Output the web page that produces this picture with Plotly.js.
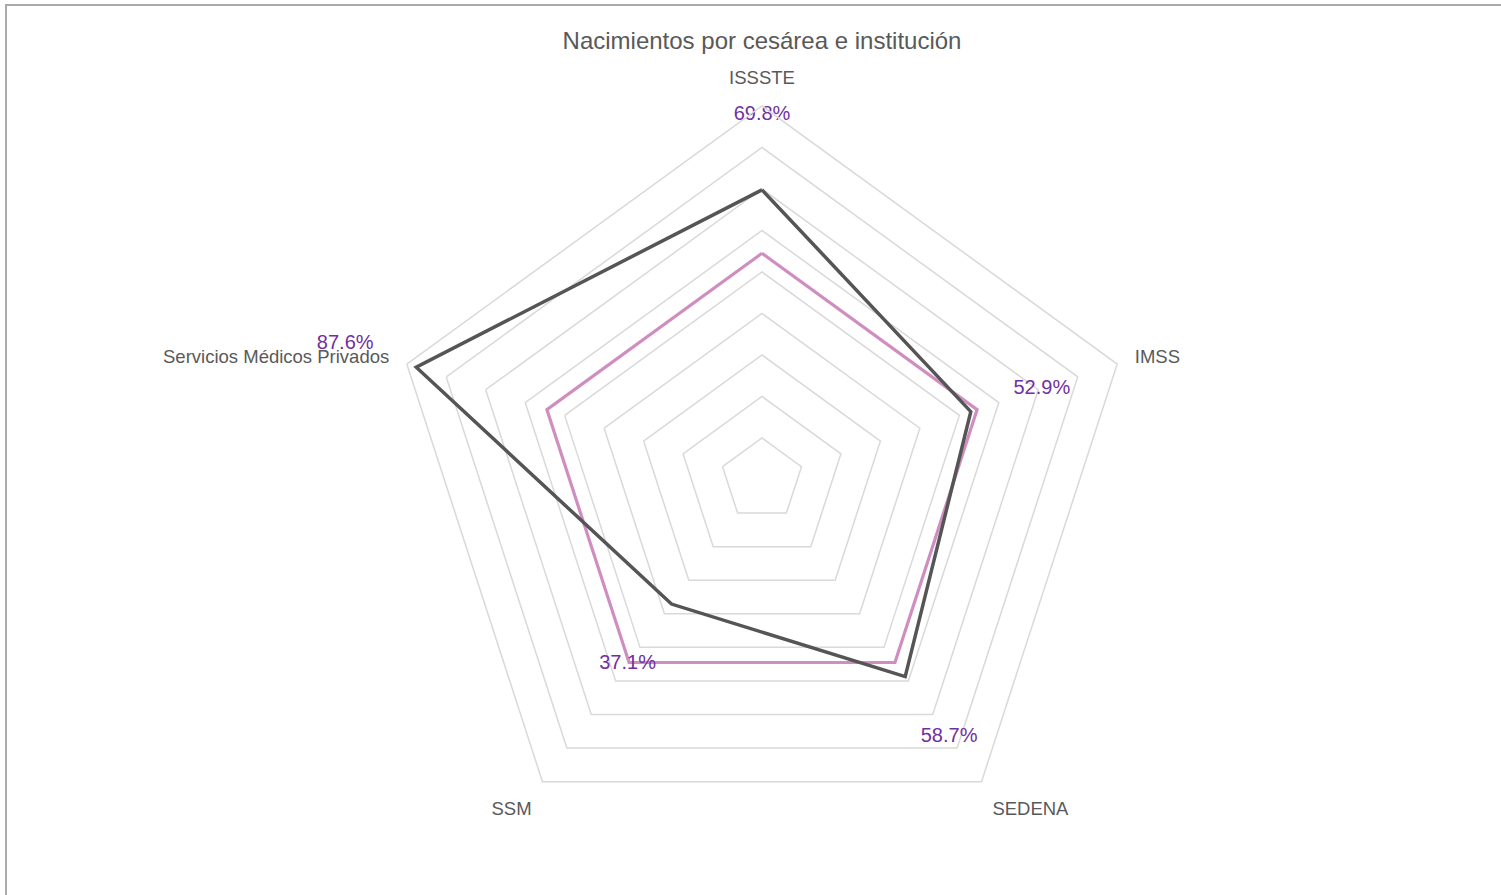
<!DOCTYPE html>
<html>
<head>
<meta charset="utf-8">
<script src="https://cdn.plot.ly/plotly-3.0.1.min.js"></script>
<style>html,body{margin:0;padding:0;background:#fff;}#chart{width:1501px;height:895px;}</style>
</head>
<body>
<div id="chart"></div>
<script>
// Data
const categories = ["ISSSTE", "IMSS", "SEDENA", "SSM", "Servicios Médicos Privados"];
const cesareaInstitucion = [0.698, 0.529, 0.587, 0.371, 0.876];
const promedioNacional = [0.545, 0.545, 0.545, 0.545, 0.545];
const labelTexts = ["69.8%", "52.9%", "58.7%", "37.1%", "87.6%"];

// Style / geometry
const W = 1501, H = 895;
const CX = 762, CY = 479.5;          // pixel centre of the radar
const R_MAIN_PX = 373.5;             // pixel radius of the outer ring
const RANGE_MAIN = 0.9;
const RANGE_EXT = 1.1;               // extended overlay for labels beyond the grid
const R_EXT_PX = R_MAIN_PX * RANGE_EXT / RANGE_MAIN;
const LABEL_OFFSET = 0.18;
const close = a => a.concat([a[0]]);

const labelR = cesareaInstitucion.map(v => v + LABEL_OFFSET);
const inIdx = [], outIdx = [];
labelR.forEach((r, i) => (r <= RANGE_MAIN ? inIdx : outIdx).push(i));
const pick = (arr, idx) => idx.map(i => arr[i]);
const labelFont = {family: "Liberation Sans, Arial, sans-serif", size: 20, color: "#7030A0"};

const traces = [
  {
    type: "scatterpolar", mode: "lines", subplot: "polar",
    r: close(promedioNacional), theta: close(categories),
    line: {color: "#CF8EBF", width: 3.2}, hoverinfo: "skip"
  },
  {
    type: "scatterpolar", mode: "lines", subplot: "polar",
    r: close(cesareaInstitucion), theta: close(categories),
    line: {color: "#555555", width: 3.5}, hoverinfo: "skip"
  },
  {
    type: "scatterpolar", mode: "text", subplot: "polar",
    r: pick(labelR, inIdx), theta: pick(categories, inIdx),
    text: pick(labelTexts, inIdx), textposition: "middle center", cliponaxis: false,
    textfont: labelFont, hoverinfo: "skip"
  },
  {
    type: "scatterpolar", mode: "text", subplot: "polar2",
    r: pick(labelR, outIdx), theta: pick(categories, outIdx),
    text: pick(labelTexts, outIdx), textposition: "middle center", cliponaxis: false,
    textfont: labelFont, hoverinfo: "skip"
  }
];

const layout = {
  width: W, height: H,
  margin: {l: 0, r: 0, t: 0, b: 0},
  paper_bgcolor: "#ffffff",
  showlegend: false,
  title: {
    text: "Nacimientos por cesárea e institución",
    x: CX / W, xanchor: "center", y: 1 - 41 / H, yanchor: "middle",
    font: {family: "Liberation Sans, Arial, sans-serif", size: 24, color: "#595959"}
  },
  polar: {
    domain: {x: [0.1, 2 * CX / W - 0.1], y: [1 - (CY + R_MAIN_PX) / H, 1 - (CY - R_MAIN_PX) / H]},
    gridshape: "linear",
    bgcolor: "rgba(0,0,0,0)",
    radialaxis: {
      range: [0, RANGE_MAIN], dtick: 0.1, tick0: 0,
      showticklabels: false, showline: false, ticks: "",
      gridcolor: "#D9D9D9", gridwidth: 1.5
    },
    angularaxis: {
      type: "category", categoryorder: "array", categoryarray: categories,
      rotation: 90, direction: "clockwise",
      showgrid: false, showline: true, linecolor: "#D9D9D9", linewidth: 1.5,
      ticks: "outside", ticklen: 14, tickcolor: "rgba(0,0,0,0)",
      tickfont: {family: "Liberation Sans, Arial, sans-serif", size: 18.5, color: "#595959"}
    }
  },
  polar2: {
    sector: [0, 180],
    domain: {x: [(CX - R_EXT_PX) / W, (CX + R_EXT_PX) / W], y: [1 - CY / H, 1 - (CY - R_EXT_PX) / H]},
    bgcolor: "rgba(0,0,0,0)",
    radialaxis: {range: [0, RANGE_EXT], visible: false},
    angularaxis: {
      type: "category", categoryorder: "array", categoryarray: categories,
      rotation: 90, direction: "clockwise", visible: false
    }
  },
  shapes: [{
    type: "rect", xref: "paper", yref: "paper",
    x0: 6 / W, x1: 1.02, y0: -0.02, y1: 1 - 5 / H,
    line: {color: "#ABABAB", width: 2}, fillcolor: "rgba(0,0,0,0)"
  }]
};

Plotly.newPlot("chart", traces, layout, {displayModeBar: false, staticPlot: true});
</script>
</body>
</html>
